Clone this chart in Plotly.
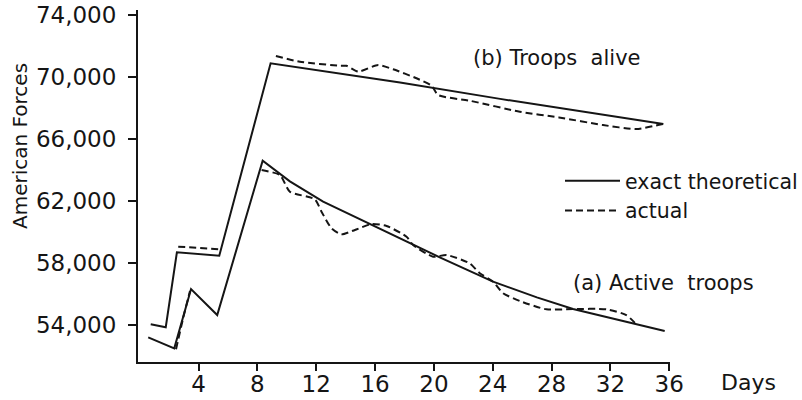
import plotly.graph_objects as go

# --- data -------------------------------------------------------------
# (b) troops alive, exact theoretical
alive_theory_days = [0.75, 1.77, 2.53, 5.41, 8.90, 17.7, 24.5, 35.6]
alive_theory = [54010, 53820, 58670, 58450, 70880, 69640, 68580, 66960]

# (b) troops alive, actual (None = no record drawn)
alive_actual_days = [2.62, 5.5, None, 9.26, 10.89, 13.61, 14.06, 14.85, 16.21, 17.23,
                     18.82, 19.84, 20.29, 22.5, 25.84, 28.5, 31.49, 33.76, 35.23, 35.6]
alive_actual = [59030, 58860, None, 71350, 70980, 70720, 70720, 70340, 70770, 70490,
                69910, 69430, 68830, 68450, 67750, 67380, 66890, 66630, 66890, 66960]

# (a) active troops, exact theoretical
active_theory_days = [0.58, 2.35, 3.49, 5.27, 8.36, 10.21, 12.47, 15.65, 18.0, 20.4,
                      24.02, 27.0, 29.46, 32.5, 35.69]
active_theory = [53170, 52460, 56290, 54610, 64590, 63250, 61940, 60490, 59440, 58340,
                 56770, 55750, 55000, 54290, 53580]

# (a) active troops, actual
active_actual_days = [2.47, 2.95, 3.42, None, 8.29, 9.53, 10.21, 11.91, 12.36, 13.04,
                      13.72, 14.63, 15.76, 16.78, 18.14, 18.59, 19.95, 20.86, 22.44,
                      23.12, 24.02, 24.70, 25.84, 27.65, 29.46, 31.73, 33.08, 33.76]
active_actual = [52400, 54400, 56170, None, 63980, 63660, 62580, 62090, 61290, 60220,
                 59830, 60110, 60490, 60370, 59670, 59140, 58380, 58490, 57950,
                 57310, 56770, 56020, 55520, 54980, 55000, 54980, 54610, 54010]

x_ticks = [4, 8, 12, 16, 20, 24, 28, 32, 36]
y_ticks = [54000, 58000, 62000, 66000, 70000, 74000]

# --- styling ------------------------------------------------------------
INK = "#151515"
FONT = "DejaVu Sans"
solid = dict(color=INK, width=2)
dashed = dict(color=INK, width=2, dash="7px,4px")

fig = go.Figure()
fig.add_trace(go.Scatter(x=alive_theory_days, y=alive_theory, mode="lines",
                         line=solid, name="exact theoretical", legendgroup="t"))
fig.add_trace(go.Scatter(x=alive_actual_days, y=alive_actual, mode="lines",
                         line=dict(dashed, shape="spline", smoothing=0.6),
                         connectgaps=False, name="actual", legendgroup="a"))
fig.add_trace(go.Scatter(x=active_theory_days, y=active_theory, mode="lines",
                         line=solid, name="exact theoretical", legendgroup="t",
                         showlegend=False))
fig.add_trace(go.Scatter(x=active_actual_days, y=active_actual, mode="lines",
                         line=dict(dashed, shape="spline", smoothing=0.6),
                         connectgaps=False, name="actual", legendgroup="a",
                         showlegend=False))

# plot box in pixels: left 138, right 670, top 10, bottom 362
L, R, T, B = 138, 670, 10, 362


def px(x):
    return (x - L) / (R - L)


def py(y):
    return (B - y) / (B - T)


def font(size):
    return dict(family=FONT, size=size, color=INK)


ann = dict(xref="paper", yref="paper", showarrow=False)
fig.add_annotation(text="(b) Troops  alive", x=px(471), y=py(58),
                   xanchor="left", yanchor="middle", font=font(21), **ann)
fig.add_annotation(text="(a) Active  troops", x=px(571), y=py(283),
                   xanchor="left", yanchor="middle", font=font(21), **ann)
fig.add_annotation(text="Days", x=px(719), y=py(382),
                   xanchor="left", yanchor="middle", font=font(22), **ann)
fig.add_annotation(text="American Forces", x=px(20), y=py(146),
                   xanchor="center", yanchor="middle", textangle=-90,
                   font=font(20), **ann)

fig.update_layout(
    width=802, height=400,
    margin=dict(l=L, r=802 - R, t=T, b=400 - B, autoexpand=False),
    paper_bgcolor="white", plot_bgcolor="white",
    font=dict(family=FONT, color=INK),
    showlegend=True,
    legend=dict(x=px(560), y=py(161), xanchor="left", yanchor="top",
                bgcolor="rgba(0,0,0,0)", font=font(20.5),
                tracegroupgap=0, itemwidth=55),
    xaxis=dict(range=[-0.115, 36.05], tickvals=x_ticks, showgrid=False,
               zeroline=False, showline=True, linecolor=INK, linewidth=2,
               ticks="outside", ticklen=7, tickwidth=2, tickcolor=INK,
               automargin=False, ticklabelstandoff=-7, tickfont=font(23)),
    yaxis=dict(range=[51577, 74323], tickvals=y_ticks, tickformat=",d",
               showgrid=False, zeroline=False, showline=True, linecolor=INK,
               linewidth=2, ticks="outside", ticklen=8, tickwidth=2, tickcolor=INK,
               automargin=False, ticklabelstandoff=7, tickfont=font(23)),
)

fig.write_html("out.html")
